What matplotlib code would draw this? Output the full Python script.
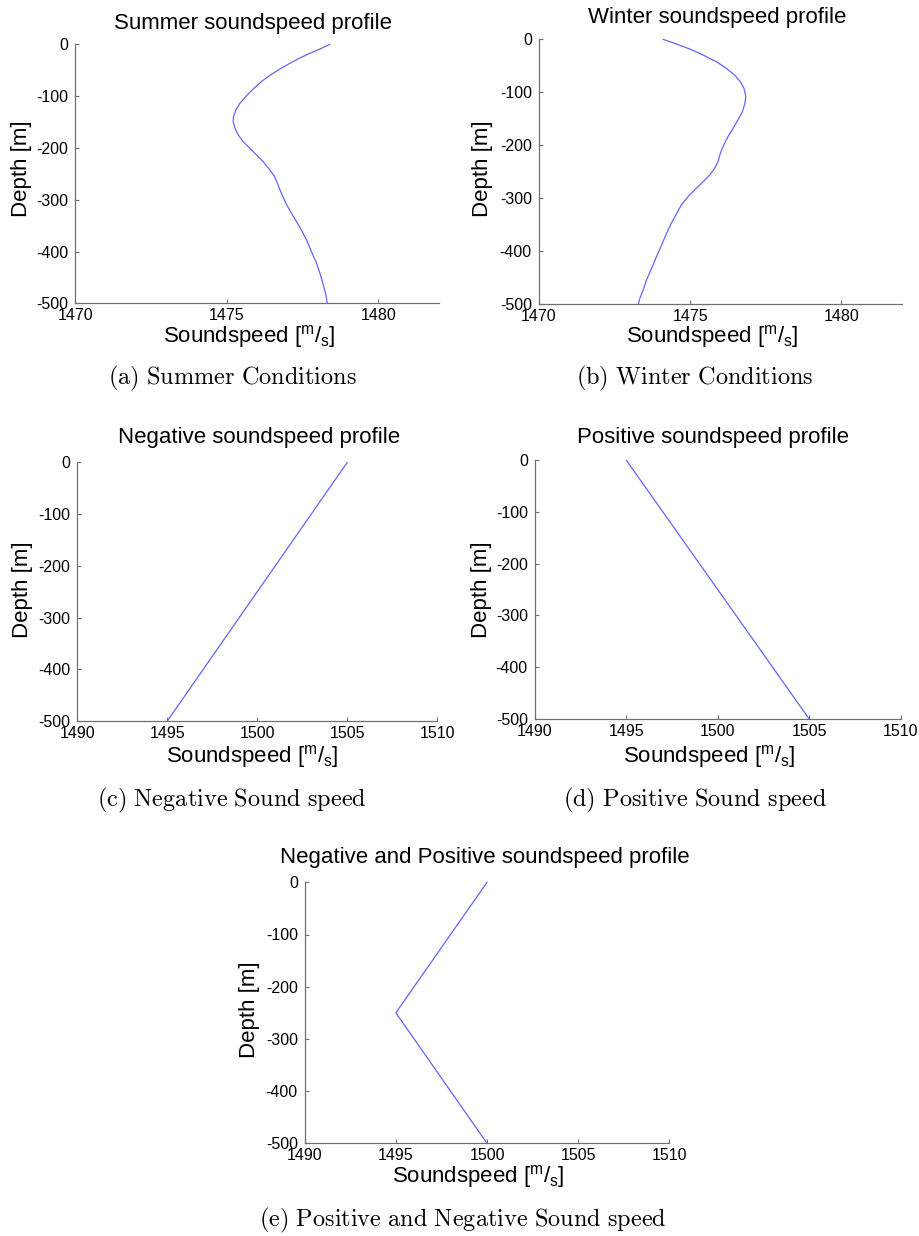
import matplotlib
matplotlib.use("Agg")
import matplotlib.pyplot as plt
from matplotlib.transforms import Affine2D

# ---------------- data ----------------
summer_depth = [0, -9.1, -17.4, -26.4, -36.7, -47.7, -59.9, -72.1, -86.3, -99.2, -114.0,
                -126.8, -139.7, -149.4, -162.2, -175.1, -188.0, -200.8, -213.7, -226.6,
                -242.7, -255.5, -271.6, -287.7, -307.0, -323.1, -342.4, -358.5, -377.8,
                -400.3, -422.8, -445.4, -467.9, -484.0, -500]
summer_speed = [1478.40, 1478.07, 1477.74, 1477.41, 1477.08, 1476.75, 1476.42, 1476.14,
                1475.87, 1475.65, 1475.43, 1475.30, 1475.22, 1475.21, 1475.27, 1475.38,
                1475.54, 1475.76, 1475.98, 1476.20, 1476.42, 1476.58, 1476.69, 1476.80,
                1476.95, 1477.10, 1477.30, 1477.46, 1477.63, 1477.79, 1477.96, 1478.09,
                1478.20, 1478.27, 1478.31]

winter_depth = [0, -8.9, -18.3, -29.7, -42.3, -54.9, -67.5, -80.0, -92.6, -108.4, -121.0,
                -136.7, -152.5, -168.2, -184.0, -199.7, -215.4, -231.2, -243.8, -256.4,
                -269.0, -284.7, -297.3, -313.0, -331.9, -350.8, -369.7, -388.6, -410.6,
                -432.7, -454.7, -476.8, -489.4, -500]
winter_speed = [1474.11, 1474.55, 1474.99, 1475.43, 1475.87, 1476.20, 1476.47, 1476.66,
                1476.78, 1476.84, 1476.81, 1476.73, 1476.58, 1476.42, 1476.25, 1476.11,
                1476.00, 1475.92, 1475.81, 1475.65, 1475.43, 1475.15, 1474.93, 1474.71,
                1474.53, 1474.35, 1474.20, 1474.06, 1473.89, 1473.73, 1473.56, 1473.43,
                1473.34, 1473.29]

neg_depth = [0, -500]
neg_speed = [1505, 1495]

pos_depth = [0, -500]
pos_speed = [1495, 1505]

negpos_depth = [0, -250, -500]
negpos_speed = [1500, 1495, 1500]

depth_ticks = [0, -100, -200, -300, -400, -500]
ticks_ab = [1470, 1475, 1480]
ticks_cde = [1490, 1495, 1500, 1505, 1510]

titles = ["Summer soundspeed profile", "Winter soundspeed profile",
          "Negative soundspeed profile", "Positive soundspeed profile",
          "Negative and Positive soundspeed profile"]
captions = ["(a) Summer Conditions", "(b) Winter Conditions",
            "(c) Negative Sound speed", "(d) Positive Sound speed",
            "(e) Positive and Negative Sound speed"]

# ---------------- style ----------------
plt.rcParams['font.family'] = ['Liberation Sans', 'DejaVu Sans']
plt.rcParams['axes.unicode_minus'] = False
plt.rcParams['mathtext.fontset'] = 'custom'
plt.rcParams['mathtext.rm'] = 'Liberation Sans'
plt.rcParams['mathtext.it'] = 'Liberation Sans:italic'
plt.rcParams['mathtext.bf'] = 'Liberation Sans:bold'

W, H = 920, 1236
fig = plt.figure(figsize=(W / 100, H / 100), dpi=100)
px = Affine2D().scale(1 / W, -1 / H).translate(0, 1) + fig.transFigure

LINE_COLOR = '#6464ff'
SPINE_COLOR = '#707070'

# pixel boxes: (left, right, top, bottom)
boxes = [(75.3, 439.0, 44.3, 303.3),
         (538.7, 902.0, 39.3, 304.0),
         (77.3, 437.3, 462.3, 721.0),
         (534.7, 900.7, 460.0, 719.0),
         (304.7, 669.3, 882.3, 1143.3)]
title_pos = [(253, 24), (717, 17), (259, 437), (713, 438), (485, 858)]
ylab_pos = [(22, 169), (483, 169), (23, 590), (482, 590), (250, 1010)]
xlab_pos = [(249, 337), (712, 337), (252, 757), (709, 757), (478, 1177)]
cap_pos = [(232, 378), (695, 378), (232, 800), (695, 800), (463, 1220)]

series = [(summer_speed, summer_depth, (1470, 1482), ticks_ab),
          (winter_speed, winter_depth, (1470, 1482), ticks_ab),
          (neg_speed, neg_depth, (1490, 1510), ticks_cde),
          (pos_speed, pos_depth, (1490, 1510), ticks_cde),
          (negpos_speed, negpos_depth, (1490, 1510), ticks_cde)]

xlabel_text = r"Soundspeed [$^{\mathrm{m}}$/$_{\mathrm{s}}$]"

for i, ((L, R, T, B), (xs, ys, xl, xt)) in enumerate(zip(boxes, series)):
    ax = fig.add_axes([L / W, 1 - B / H, (R - L) / W, (B - T) / H])
    ax.plot(xs, ys, color=LINE_COLOR, lw=0.9)
    ax.set_xlim(*xl)
    ax.set_ylim(-500, 0)
    ax.set_xticks(xt)
    ax.set_yticks(depth_ticks)
    for s in ['top', 'right']:
        ax.spines[s].set_visible(False)
    for s in ['left', 'bottom']:
        ax.spines[s].set_color(SPINE_COLOR)
        ax.spines[s].set_linewidth(0.9)
    ax.tick_params(direction='in', length=3, width=0.8, color=SPINE_COLOR,
                   labelsize=11.5, labelcolor='black')
    ax.tick_params(axis='y', pad=5)
    ax.tick_params(axis='x', pad=3.5)

    fig.text(*title_pos[i], titles[i], transform=px, ha='center', va='center', fontsize=16)
    fig.text(*ylab_pos[i], "Depth [m]", transform=px, ha='center', va='center',
             fontsize=16, rotation=90)
    fig.text(*xlab_pos[i], xlabel_text, transform=px, ha='center', va='center', fontsize=16)
    cap = captions[i].replace(' ', r'\ ')
    fig.text(*cap_pos[i], r"$\mathrm{" + cap + "}$", transform=px, ha='center', va='center',
             fontsize=17.5, math_fontfamily='cm')

fig.savefig("out.png", dpi=100)
